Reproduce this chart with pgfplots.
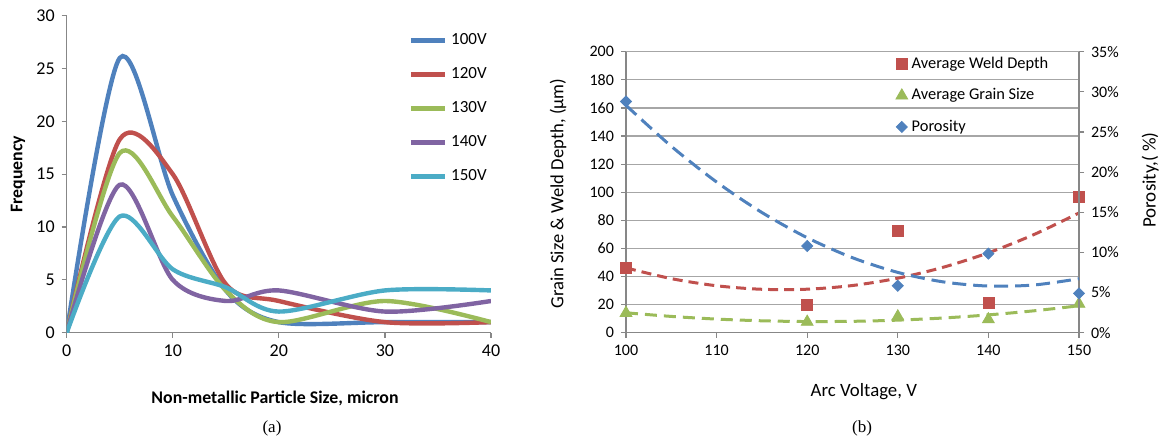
\documentclass[border=0pt]{standalone}
\usepackage{pgfplots}
\usepackage{pgfplotstable}
\pgfplotsset{compat=1.18}
\usepackage{fontspec}
\setmainfont{Carlito}
\newfontfamily\capfont{Liberation Serif}
\definecolor{cA}{HTML}{4F81BD}
\definecolor{cB}{HTML}{C0504D}
\definecolor{cC}{HTML}{9BBB59}
\definecolor{cD}{HTML}{8064A2}
\definecolor{cE}{HTML}{4BACC6}
\definecolor{axgray}{HTML}{878787}
\definecolor{gridgray}{HTML}{A6A6A6}

\pgfplotstableread{
x   v100 v120 v130 v140 v150
0   0    0    0    0    0
5   26   18.3 17   14   11
10  13   15   11   5    6
15  4    4.6  4    3    4.3
20  1    3    1    4    2
30  1    1    3    2    4
40  1    1    1    3    4
}\leftdata

\pgfplotstableread{
V   weld grain por
100 46   14   28.8
120 20   7.7  10.8
130 72.8 11.5 5.85
140 21.4 9.5  9.85
150 96.3 20.5 4.9
}\rightdata

\pgfplotstableread{
V   weld  grain por
100 46.13 14.18 28.32
105 38.49 11.59 23.22
110 33.41 9.69  18.77
115 30.90 8.47  14.97
120 30.96 7.94  11.83
125 33.59 8.10  9.34
130 38.79 8.94  7.51
135 46.55 10.46 6.33
140 56.88 12.68 5.81
145 69.78 15.57 5.94
150 85.24 19.16 6.72
}\trenddata

\begin{document}
\begin{tikzpicture}[x=1pt,y=1pt]
\useasboundingbox (0,0) rectangle (583.5,220);

% ---------------- (a) ----------------
\begin{axis}[
  at={(33.35pt,53.65pt)}, anchor=south west,
  scale only axis, width=212.15pt, height=158.5pt,
  xmin=0, xmax=40, ymin=0, ymax=30,
  xtick={0,10,...,40}, ytick={0,5,...,30},
  axis x line*=bottom, axis y line*=left,
  axis line style={draw=axgray, line width=0.6pt, -},
  tick style={draw=axgray, line width=0.6pt},
  tick align=outside, major tick length=2.5pt,
  tick label style={font=\fontsize{9}{10}\selectfont},
  /pgf/number format/assume math mode=true,
  xlabel={\textbf{Non-metallic Particle Size, micron}},
  ylabel={\textbf{Frequency}},
  every axis x label/.style={at={(axis description cs:0.491,-0.206)}, anchor=center, font=\fontsize{8.9}{10}\selectfont},
  every axis y label/.style={at={(axis description cs:-0.1148,0.5)}, anchor=center, rotate=90, font=\fontsize{8.9}{10}\selectfont},
  legend style={at={(axis description cs:0.805,0.958)}, anchor=north west, draw=none, fill=none,
     inner sep=0pt, font=\fontsize{8.5}{10}\selectfont, row sep=6pt},
  legend cell align=left,
  every axis plot/.append style={line width=2.2pt, smooth, no markers},
]
\addplot[cA] table[x=x,y=v100] {\leftdata};
\addlegendentry{100V}
\addplot[cB] table[x=x,y=v120] {\leftdata};
\addlegendentry{120V}
\addplot[cC] table[x=x,y=v130] {\leftdata};
\addlegendentry{130V}
\addplot[cD] table[x=x,y=v140] {\leftdata};
\addlegendentry{140V}
\addplot[cE] table[x=x,y=v150] {\leftdata};
\addlegendentry{150V}
\end{axis}

% ---------------- (b) primary ----------------
\begin{axis}[
  at={(313pt,53.65pt)}, anchor=south west,
  scale only axis, width=226.5pt, height=140.5pt,
  xmin=100, xmax=150, ymin=0, ymax=200,
  xtick={100,110,...,150}, ytick={0,20,...,200},
  axis y line*=left, axis x line*=bottom,
  axis line style={draw=axgray, line width=0.6pt, -},
  tick style={draw=axgray, line width=0.6pt},
  tick align=outside, major tick length=2.5pt,
  ymajorgrids, grid style={draw=gridgray, line width=0.6pt},
  tick label style={font=\fontsize{8}{9}\selectfont},
  /pgf/number format/assume math mode=true,
  xlabel={Arc Voltage, V},
  ylabel={Grain Size \& Weld Depth, (µm)},
  every axis x label/.style={at={(axis description cs:0.525,-0.211)}, anchor=center, font=\fontsize{9.4}{11}\selectfont},
  every axis y label/.style={at={(axis description cs:-0.150,0.495)}, anchor=center, rotate=90, font=\fontsize{9.3}{11}\selectfont},
]
\addplot[cB, line width=1.5pt, dash pattern=on 5pt off 3pt, smooth, no markers] table[x=V,y=weld] {\trenddata};
\addplot[cC, line width=1.5pt, dash pattern=on 6pt off 3.5pt, smooth, no markers] table[x=V,y=grain] {\trenddata};
\addplot[only marks, mark=square*, mark size=2.75pt, mark options={draw=cB, fill=cB}] table[x=V,y=weld] {\rightdata};
\addplot[only marks, mark=triangle*, mark size=3.4pt, mark options={draw=cC, fill=cC}] table[x=V,y=grain] {\rightdata};
\end{axis}

% ---------------- (b) secondary ----------------
\begin{axis}[
  at={(313pt,53.65pt)}, anchor=south west,
  scale only axis, width=226.5pt, height=140.5pt,
  xmin=100, xmax=150, ymin=0, ymax=35,
  axis x line=none, axis y line*=right,
  ytick={0,5,...,35},
  yticklabel={\pgfmathprintnumber{\tick}\%},
  axis line style={draw=axgray, line width=0.6pt, -},
  tick style={draw=axgray, line width=0.6pt},
  tick align=outside, major tick length=2.5pt,
  tick label style={font=\fontsize{8}{9}\selectfont},
  /pgf/number format/assume math mode=true,
  ylabel={Porosity,( \%)},
  every axis y label/.style={at={(axis description cs:1.157,0.543)}, anchor=center, rotate=90, font=\fontsize{9.5}{11}\selectfont},
  legend style={at={(axis description cs:0.595,0.9964)}, anchor=north west, draw=none, fill=none,
     inner sep=0pt, font=\fontsize{8.2}{9}\selectfont, row sep=4.5pt},
  legend cell align=left,
  legend image code/.code={\draw[#1] plot coordinates {(0pt,0pt)};},
]
\addplot[cA, line width=1.5pt, dash pattern=on 7pt off 3.5pt, smooth, no markers, forget plot] table[x=V,y=por] {\trenddata};
\addlegendimage{only marks, mark=square*, mark size=2.75pt, mark options={draw=cB, fill=cB}}
\addlegendentry{Average Weld Depth}
\addlegendimage{only marks, mark=triangle*, mark size=3.4pt, mark options={draw=cC, fill=cC}}
\addlegendentry{Average Grain Size}
\addplot[only marks, mark=square*, mark size=1.95pt, mark options={draw=cA, fill=cA, rotate=45}] table[x=V,y=por] {\rightdata};
\addlegendentry{Porosity}
\end{axis}

\node[font=\capfont\fontsize{8.5}{10}\selectfont] at (136,6) {(a)};
\node[font=\capfont\fontsize{8.5}{10}\selectfont] at (431,6) {(b)};
\end{tikzpicture}
\end{document}
